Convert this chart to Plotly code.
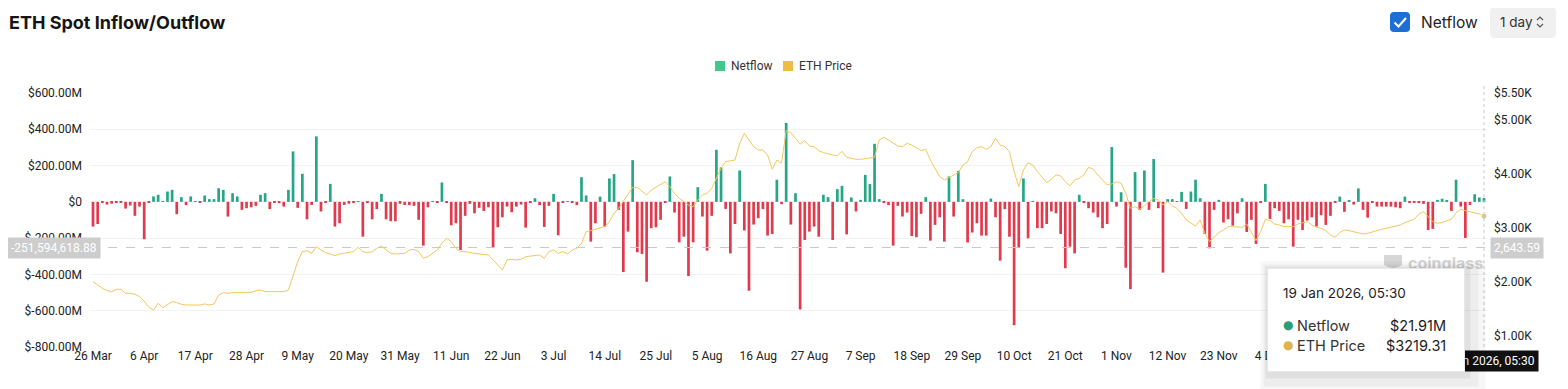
import pandas as pd
import plotly.graph_objects as go

# ---------------- data ----------------
start_date = "2025-03-26"
n_days = 300

netflow_musd = [
    # 26 Mar - 1 May
    -136, -122, -4, -15, -10, -3, -3, -37, -20, -77, -26, -206, -3, 30, 39, 3, 57, 66, -68, 26,
    -18, 30, 3, -3, 35, 15, 15, 75, 66, -81, 48, 30, -44, -35, -30, -22, 39,
    # 2 May - 7 Jun
    48, -40, -4, -3, -26, 66, 278, -33, 155, -96, -17, 361, -53, -3, 99, -136, -118, -17, -10, -5,
    3, -192, -2, -96, -40, 44, -96, -107, -107, -11, -17, -18, -22, -99, -241, -30, 3,
    # 8 Jun - 14 Jul
    -3, 107, -3, -129, -118, -265, -77, -11, -63, -33, -50, -30, -252, -140, -85, -26, -57, -26, -15, -142,
    -3, 20, -18, -138, -22, 44, -184, -4, 3, -3, -18, 136, 35, -219, -118, 29, -136,
    # 15 Jul - 19 Aug
    129, 153, -44, -387, -164, 230, -278, -287, -440, -145, -140, -99, -5, 140, -59, -223, -192, -409, -223, 81,
    -81, -269, -77, 287, 190, -39, -284, -122, 173, -158, -490, -125, -90, -40, -186, -177,
    # 20 Aug - 25 Sep
    122, -13, 435, -125, 48, -593, -210, -164, -136, -192, 39, 26, -210, 70, 88, -179, 24, -53, 11, 149,
    98, 320, 15, -4, -18, -241, -22, -81, -59, -188, -195, -66, 26, -214, -127, -85, -219,
    # 26 Sep - 31 Oct
    140, -81, 171, 15, -224, -169, -118, -186, -186, 18, -85, -324, -40, -192, -680, -252, 129, -201, 2, -145,
    -145, -122, -53, -63, -177, -366, -247, -284, 39, -5, -35, -59, -85, -145, -122, 302,
    # 1 Nov - 7 Dec
    -26, 53, -363, -481, 164, -44, 173, -44, 236, -35, -390, 15, 15, 3, 55, -39, 57, 122, 20, -177,
    -256, -44, 11, -114, -96, -131, -63, 20, -166, -99, -232, -3, 99, -94, -35, -50, -118,
    # 8 Dec - 19 Jan
    -96, -247, -99, -155, -103, -85, -136, -74, -127, -77, -3, 29, -55, 5, -15, 74, -44, -87, -5, -26,
    -26, -26, -26, -30, -35, 29, -2, -3, -7, -11, -155, -149, 11, 17, 7, -50, 122, -26, -199, -17,
    42, 24, 21.91,
]

eth_price_usd = [
    2006, 1945, 1883, 1840, 1821, 1864, 1864, 1790, 1790, 1772, 1729, 1648, 1531, 1482, 1605, 1525, 1574, 1636, 1617, 1587,
    1574, 1574, 1574, 1574, 1593, 1574, 1593, 1759, 1803, 1790, 1803, 1803, 1790, 1803, 1809, 1840, 1852,
    1821, 1821, 1821, 1821, 1821, 1852, 2099, 2377, 2562, 2580, 2531, 2654, 2593, 2543, 2519, 2488, 2519, 2531, 2543, 2562,
    2642, 2562, 2543, 2562, 2624, 2667, 2593, 2531, 2519, 2519, 2531, 2593, 2605, 2562, 2438, 2469, 2531,
    2593, 2716, 2809, 2747, 2624, 2562, 2562, 2543, 2531, 2531, 2519, 2500, 2408, 2315, 2222, 2408, 2420, 2408, 2420, 2469,
    2482, 2500, 2500, 2438, 2562, 2593, 2531, 2562, 2519, 2593, 2624, 2716, 2932, 2951, 2975, 2994, 3025,
    3117, 3272, 3364, 3488, 3611, 3753, 3753, 3673, 3611, 3704, 3753, 3797, 3858, 3766, 3642, 3550, 3488, 3426, 3395, 3519,
    3611, 3642, 3735, 3920, 4105, 4229, 4241, 4259, 4568, 4753, 4630, 4506, 4445, 4445, 4352, 4087,
    4259, 4198, 4803, 4766, 4661, 4556, 4618, 4519, 4506, 4432, 4395, 4371, 4352, 4334, 4420, 4309, 4290, 4272, 4272, 4284,
    4290, 4309, 4630, 4679, 4630, 4568, 4519, 4506, 4568, 4537, 4476, 4432, 4457, 4259,
    4105, 3951, 3889, 3938, 3982, 4025, 4167, 4229, 4414, 4488, 4506, 4457, 4506, 4661, 4537, 4506, 4414, 4043, 3766, 4074,
    4210, 4167, 4043, 3938, 3840, 3901, 3982, 3963, 3858, 3778, 3889, 3920, 3982, 4124, 4087, 3982, 3889, 3797, 3815,
    3858, 3827, 3642, 3364, 3395, 3346, 3408, 3488, 3550, 3519, 3426, 3488, 3408, 3364, 3272, 3148, 3099, 3037, 3148, 2901,
    2747, 2840, 2914, 2963, 3025, 3025, 3025, 3013, 3074, 2932, 2766, 2932, 3161, 3136, 3074, 3056, 3025,
    3025, 3025, 3074, 3099, 3117, 3056, 3013, 2994, 2951, 2871, 2827, 2914, 2963, 2951, 2932, 2901, 2889, 2901, 2932, 2951,
    2975, 2994, 3013, 3025, 3056, 3099, 3136, 3161, 3259, 3303, 3210, 3117, 3087, 3099, 3136, 3161, 3284, 3346, 3321, 3303,
    3284, 3259, 3219.31,
]

# visible x tick labels (every 11th day; later ones are hidden behind the tooltip in the reference)
x_tick_labels = ["26 Mar", "6 Apr", "17 Apr", "28 Apr", "9 May", "20 May", "31 May", "11 Jun", "22 Jun",
                 "3 Jul", "14 Jul", "25 Jul", "5 Aug", "16 Aug", "27 Aug", "7 Sep", "18 Sep", "29 Sep",
                 "10 Oct", "21 Oct", "1 Nov", "12 Nov", "23 Nov", "4 Dec"]
left_tick_values = [600, 400, 200, 0, -200, -400, -600, -800]
left_tick_labels = ["$600.00M", "$400.00M", "$200.00M", "$0", "$-200.00M", "$-400.00M", "$-600.00M", "$-800.00M"]
right_tick_values = [5500, 5000, 4000, 3000, 2000, 1000]
right_tick_labels = ["$5.50K", "$5.00K", "$4.00K", "$3.00K", "$2.00K", "$1.00K"]

crosshair_netflow = -251.59461888

# ---------------- styling ----------------
GREEN = "#25a686"
RED = "#e3394c"
YELLOW = "#f3c75d"
BG = "#ffffff"
FONT = "Roboto, sans-serif"
TFONT = "Inter, Roboto, sans-serif"
OFF = 8                      # page body margin
W, H = 1568 - OFF, 389 - OFF
L, R, T, B = 90, 1487, 93, 347  # plot area in page px

def px(x):
    return (x - L) / (R - L)

def py(y):
    return (B - y) / (B - T)

def rrect(x0, y0, x1, y1, r):
    return (f"M {px(x0 + r)},{py(y0)} L {px(x1 - r)},{py(y0)} Q {px(x1)},{py(y0)} {px(x1)},{py(y0 + r)} "
            f"L {px(x1)},{py(y1 - r)} Q {px(x1)},{py(y1)} {px(x1 - r)},{py(y1)} L {px(x0 + r)},{py(y1)} "
            f"Q {px(x0)},{py(y1)} {px(x0)},{py(y1 - r)} L {px(x0)},{py(y0 + r)} Q {px(x0)},{py(y0)} {px(x0 + r)},{py(y0)} Z")

dates = pd.date_range(start_date, periods=n_days, freq="D")
tick_dates = list(dates[::11])[:len(x_tick_labels)]
bar_colors = [GREEN if v >= 0 else RED for v in netflow_musd]

fig = go.Figure()
fig.add_trace(go.Bar(x=dates, y=netflow_musd, marker=dict(color=bar_colors, line=dict(width=0)),
                     width=0.58 * 86400000, showlegend=False, name="Netflow"))
fig.add_trace(go.Scatter(x=dates, y=eth_price_usd, yaxis="y2", mode="lines",
                         line=dict(color=YELLOW, width=1), showlegend=False, name="ETH Price"))
fig.add_trace(go.Scatter(x=[dates[-1]], y=[eth_price_usd[-1]], yaxis="y2", mode="markers",
                         marker=dict(size=6, color="#d9c79a", line=dict(color="#ffffff", width=1)),
                         showlegend=False, hoverinfo="skip"))

x0 = dates[0] - pd.Timedelta(hours=15.6)
x1 = dates[-1] + pd.Timedelta(hours=15.6)

shapes = [
    # crosshair lines
    dict(type="line", xref="paper", yref="y", x0=0, x1=1, y0=crosshair_netflow, y1=crosshair_netflow,
         line=dict(color="#c9c9c9", width=1, dash="dash")),
    dict(type="line", xref="x", yref="paper", x0=dates[-1], x1=dates[-1], y0=0, y1=py(84),
         line=dict(color="#c9c9c9", width=1, dash="dot")),
    # legend squares
    dict(type="rect", xref="paper", yref="paper", x0=px(715), x1=px(725), y0=py(71), y1=py(61),
         fillcolor="#3fc98a", line=dict(width=0)),
    dict(type="rect", xref="paper", yref="paper", x0=px(783), x1=px(793), y0=py(71), y1=py(61),
         fillcolor="#f0be3e", line=dict(width=0)),
    # checkbox
    dict(type="path", xref="paper", yref="paper", path=rrect(1390, 12, 1410, 32, 4),
         fillcolor="#1d6fd6", line=dict(width=0)),
    dict(type="path", xref="paper", yref="paper",
         path=f"M {px(1394.5)},{py(22.5)} L {px(1398.5)},{py(26.5)} L {px(1406)},{py(18)}",
         line=dict(color="white", width=2)),
    # "1 day" selector
    dict(type="path", xref="paper", yref="paper", path=rrect(1490, 7, 1556, 38, 5),
         fillcolor="#f0f0f0", line=dict(width=0)),
    dict(type="path", xref="paper", yref="paper",
         path=f"M {px(1537)},{py(20)} L {px(1540)},{py(17)} L {px(1543)},{py(20)}",
         line=dict(color="#555", width=1.2)),
    dict(type="path", xref="paper", yref="paper",
         path=f"M {px(1537)},{py(24)} L {px(1540)},{py(27)} L {px(1543)},{py(24)}",
         line=dict(color="#555", width=1.2)),
    # watermark icon
    dict(type="path", xref="paper", yref="paper",
         path=f"M {px(1384)},{py(255)} L {px(1402)},{py(255)} L {px(1402)},{py(265)} "
              f"Q {px(1393)},{py(271)} {px(1384)},{py(265)} Z",
         fillcolor="#d6d6d6", line=dict(width=0)),
]

ann = []
ann.append(dict(text="<b>ETH Spot Inflow/Outflow</b>", xref="paper", yref="paper", x=px(7), y=py(22),
                xanchor="left", yanchor="middle", showarrow=False, font=dict(size=18, color="#151515", family=TFONT)))
ann.append(dict(text="Netflow", xref="paper", yref="paper", x=px(1419), y=py(22), xanchor="left",
                yanchor="middle", showarrow=False, font=dict(size=15.5, color="#222", family=TFONT)))
ann.append(dict(text="1 day", xref="paper", yref="paper", x=px(1498), y=py(22), xanchor="left",
                yanchor="middle", showarrow=False, font=dict(size=13.5, color="#333", family=TFONT)))
ann.append(dict(text="Netflow", xref="paper", yref="paper", x=px(729), y=py(66), xanchor="left",
                yanchor="middle", showarrow=False, font=dict(size=12, color="#333", family=FONT)))
ann.append(dict(text="ETH Price", xref="paper", yref="paper", x=px(797), y=py(66), xanchor="left",
                yanchor="middle", showarrow=False, font=dict(size=12, color="#333", family=FONT)))
ann.append(dict(text="<b>coinglass</b>", xref="paper", yref="paper", x=px(1406), y=py(263), xanchor="left",
                yanchor="middle", showarrow=False, font=dict(size=16, color="#d4d4d4", family=TFONT)))
# crosshair labels
ann.append(dict(text="-251,594,618.88", xref="paper", yref="y", x=px(54), y=crosshair_netflow,
                xanchor="center", yanchor="middle", showarrow=False, bgcolor="#cdcdcd", borderpad=3,
                font=dict(size=12, color="white", family=FONT)))
ann.append(dict(text="2,643.59", xref="paper", yref="y", x=px(1517), y=crosshair_netflow,
                xanchor="center", yanchor="middle", showarrow=False, bgcolor="#cdcdcd", borderpad=3,
                font=dict(size=12, color="white", family=FONT)))
ann.append(dict(text="19 Jan 2026, 05:30", xref="x", yref="paper", x=dates[-1], y=py(361),
                xanchor="center", yanchor="middle", showarrow=False, bgcolor="#111111", borderpad=3,
                font=dict(size=12, color="white", family=FONT)))
# tooltip shadow + box
for i, a in enumerate([0.03, 0.04, 0.05]):
    g = 14 - 5 * i
    ann.append(dict(text=" ", xref="paper", yref="paper", x=px(1267 - g / 2), y=py(268 - g / 2),
                    xanchor="left", yanchor="top", showarrow=False, width=196 + g * 2, height=103 + g * 2,
                    bgcolor=f"rgba(0,0,0,{a})", borderpad=0))
ann.append(dict(text=" ", xref="paper", yref="paper", x=px(1267), y=py(268), xanchor="left", yanchor="top",
                showarrow=False, width=196, height=102, bgcolor="white", bordercolor="#e8e8e8",
                borderwidth=1, borderpad=0))
ann.append(dict(text="19 Jan 2026, 05:30", xref="paper", yref="paper", x=px(1281), y=py(293),
                xanchor="left", yanchor="middle", showarrow=False, font=dict(size=13.5, color="#1c1c1c", family=TFONT)))
for label, val, col, yy in [("Netflow", "$21.91M", "#2a9d78", 325), ("ETH Price", "$3219.31", "#e0b24c", 345)]:
    ann.append(dict(text="●", xref="paper", yref="paper", x=px(1281), y=py(yy), xanchor="left",
                    yanchor="middle", showarrow=False, font=dict(size=12, color=col, family="DejaVu Sans")))
    ann.append(dict(text=label, xref="paper", yref="paper", x=px(1295), y=py(yy), xanchor="left",
                    yanchor="middle", showarrow=False, font=dict(size=14.5, color="#333", family=TFONT)))
    ann.append(dict(text=val, xref="paper", yref="paper", x=px(1448), y=py(yy), xanchor="right",
                    yanchor="middle", showarrow=False, font=dict(size=14.5, color="#1c1c1c", family=TFONT)))

fig.update_layout(
    width=W, height=H,
    margin=dict(l=L - OFF, r=W - (R - OFF), t=T - OFF, b=H - (B - OFF), pad=0),
    paper_bgcolor=BG, plot_bgcolor=BG,
    font=dict(family=FONT, size=12, color="#222"),
    showlegend=False,
    xaxis=dict(type="date", range=[x0, x1], tickmode="array", tickvals=tick_dates, ticktext=x_tick_labels,
               showgrid=False, zeroline=False, showline=False, ticks="", tickfont=dict(size=12, color="#222")),
    yaxis=dict(range=[-800, 600], tickmode="array", tickvals=left_tick_values, ticktext=left_tick_labels,
               showgrid=True, gridcolor="#f2f2f2", gridwidth=1, zeroline=False, showline=False, ticks="",
               tickfont=dict(size=12, color="#222"), ticklabelstandoff=7),
    yaxis2=dict(range=[796, 5500], overlaying="y", side="right", tickmode="array", tickvals=right_tick_values,
                ticktext=right_tick_labels, showgrid=False, zeroline=False, showline=False, ticks="",
                tickfont=dict(size=12, color="#222"), ticklabelstandoff=6),
    shapes=shapes,
    annotations=ann,
)

fig.write_html("out.html")
